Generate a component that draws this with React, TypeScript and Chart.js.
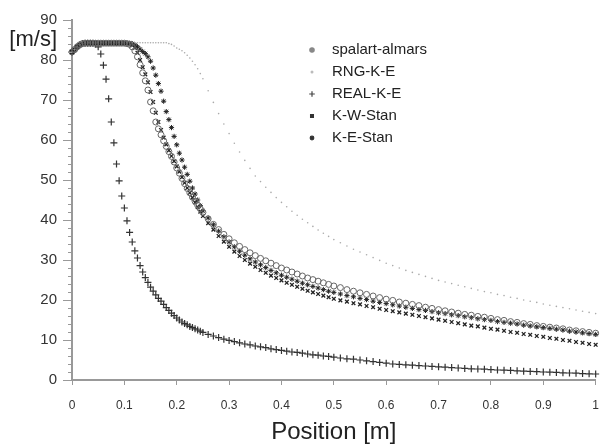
import { useEffect, useRef } from 'react';
import { Chart, registerables } from 'chart.js';
import { drawPoint } from 'chart.js/helpers';

Chart.register(...registerables);

// Sample positions along the line [m]
const positions = [
  0, 0.005, 0.01, 0.015, 0.02, 0.025, 0.03, 0.035, 0.04, 0.045, 0.05, 0.055, 0.06, 0.065, 0.07, 0.075, 0.08, 0.085, 0.09, 0.095, 0.1,
  0.105, 0.11, 0.115, 0.12, 0.125, 0.13, 0.135, 0.14, 0.145, 0.15, 0.155, 0.16, 0.165, 0.17, 0.175, 0.18, 0.185, 0.19, 0.195, 0.2,
  0.205, 0.21, 0.215, 0.22, 0.225, 0.23, 0.235, 0.24, 0.245, 0.25,
  0.26, 0.27, 0.28, 0.29, 0.3, 0.31, 0.32, 0.33, 0.34, 0.35, 0.36, 0.37, 0.38, 0.39, 0.4, 0.41, 0.42, 0.43, 0.44, 0.45, 0.46, 0.47, 0.48, 0.49, 0.5,
  0.5125, 0.525, 0.5375, 0.55, 0.5625, 0.575, 0.5875, 0.6, 0.6125, 0.625, 0.6375, 0.65, 0.6625, 0.675, 0.6875, 0.7, 0.7125, 0.725, 0.7375, 0.75,
  0.7625, 0.775, 0.7875, 0.8, 0.8125, 0.825, 0.8375, 0.85, 0.8625, 0.875, 0.8875, 0.9, 0.9125, 0.925, 0.9375, 0.95, 0.9625, 0.975, 0.9875, 1.0,
];

const spalartAlmars = [
  82.0, 82.6, 83.3, 83.8, 84.1, 84.2, 84.2, 84.2, 84.2, 84.2, 84.2, 84.2, 84.2, 84.2, 84.2, 84.2, 84.2, 84.2, 84.2, 84.2, 84.2,
  84.1, 83.9, 83.3, 82.3, 80.8, 78.8, 76.8, 74.8, 72.5, 69.5, 67.3, 64.5, 62.8, 61.3, 59.8, 58.4, 57.1, 55.9, 54.5, 53.0,
  51.7, 50.4, 49.1, 47.9, 46.8, 45.7, 44.7, 43.7, 42.8, 41.9,
  40.3, 38.9, 37.6, 36.4, 35.3, 34.3, 33.4, 32.6, 31.8, 31.1, 30.4, 29.8, 29.2, 28.6, 28.0, 27.5, 27.0, 26.5, 26.0, 25.5, 25.1, 24.7, 24.3, 23.9, 23.5,
  23.1, 22.6, 22.2, 21.8, 21.4, 21.0, 20.6, 20.2, 19.9, 19.5, 19.2, 18.9, 18.6, 18.2, 17.9, 17.6, 17.3, 17.0, 16.7, 16.4,
  16.2, 15.9, 15.7, 15.4, 15.1, 14.9, 14.6, 14.4, 14.1, 13.9, 13.6, 13.4, 13.2, 13.0, 12.8, 12.5, 12.3, 12.1, 11.9, 11.7,
];

const rngKE = [
  82.0, 82.6, 83.3, 83.8, 84.1, 84.3, 84.3, 84.3, 84.3, 84.3, 84.3, 84.3, 84.3, 84.3, 84.3, 84.3, 84.3, 84.3, 84.3, 84.3, 84.3,
  84.3, 84.3, 84.3, 84.3, 84.3, 84.3, 84.3, 84.3, 84.3, 84.3, 84.3, 84.3, 84.3, 84.3, 84.3, 84.3, 84.1, 83.9, 83.5, 83.0,
  82.7, 82.3, 81.8, 81.2, 80.5, 79.7, 78.8, 77.8, 76.6, 75.3,
  72.3, 69.4, 66.6, 64.0, 61.6, 59.2, 57.0, 54.9, 52.9, 51.0, 49.6, 48.2, 46.9, 45.6, 44.4, 43.3, 42.2, 41.2, 40.2, 39.3, 38.4, 37.5, 36.7, 35.9, 35.1,
  34.3, 33.5, 32.7, 32.0, 31.3, 30.6, 29.9, 29.2, 28.6, 28.0, 27.4, 26.9, 26.4, 25.9, 25.4, 24.9, 24.5, 24.1, 23.7, 23.3,
  22.9, 22.5, 22.1, 21.8, 21.4, 21.1, 20.7, 20.4, 20.0, 19.7, 19.4, 19.0, 18.7, 18.4, 18.1, 17.8, 17.5, 17.2, 16.9, 16.6,
];

const realKE = [
  82.0, 82.6, 83.3, 83.8, 84.1, 84.2, 84.2, 84.2, 84.2, 84.0, 83.3, 81.5, 78.7, 75.2, 70.3, 64.5, 59.3, 54.0, 49.8, 46.0, 43.0,
  39.8, 36.9, 34.5, 32.3, 30.5, 28.6, 27.0, 25.6, 24.4, 23.2, 22.2, 21.3, 20.4, 19.7, 18.9, 18.1, 17.4, 16.7, 16.1, 15.5,
  15.0, 14.5, 14.1, 13.8, 13.4, 13.1, 12.8, 12.5, 12.2, 11.9,
  11.4, 11.0, 10.6, 10.2, 9.9, 9.6, 9.3, 9.0, 8.8, 8.5, 8.3, 8.1, 7.8, 7.6, 7.4, 7.2, 7.0, 6.9, 6.7, 6.5, 6.3, 6.2, 6.0, 5.9, 5.7,
  5.5, 5.3, 5.2, 5.0, 4.8, 4.6, 4.4, 4.2, 4.0, 3.9, 3.8, 3.7, 3.6, 3.5, 3.4, 3.3, 3.2, 3.1, 3.0, 2.9,
  2.8, 2.75, 2.7, 2.6, 2.5, 2.45, 2.4, 2.3, 2.2, 2.15, 2.1, 2.0, 1.95, 1.9, 1.8, 1.75, 1.7, 1.6, 1.55, 1.5,
];

const kwStan = [
  82.0, 82.6, 83.3, 83.8, 84.1, 84.2, 84.2, 84.2, 84.2, 84.2, 84.2, 84.2, 84.2, 84.2, 84.2, 84.2, 84.2, 84.2, 84.2, 84.2, 84.2,
  84.2, 84.1, 83.7, 83.0, 81.8, 80.0, 78.2, 76.4, 74.4, 72.0, 69.5, 66.8, 64.5, 62.5, 60.6, 58.9, 57.4, 56.0, 54.7, 53.4,
  52.1, 50.7, 49.3, 48.0, 46.8, 45.6, 44.4, 43.2, 42.1, 41.0,
  39.2, 37.6, 36.0, 34.6, 33.3, 32.1, 31.0, 30.0, 29.1, 28.3, 27.5, 26.8, 26.1, 25.5, 24.9, 24.3, 23.8, 23.3, 22.8, 22.3, 21.9, 21.5, 21.1, 20.7, 20.3,
  19.9, 19.6, 19.2, 18.9, 18.5, 18.2, 17.8, 17.5, 17.2, 16.9, 16.6, 16.3, 16.0, 15.7, 15.4, 15.1, 14.8, 14.5, 14.2, 13.9,
  13.6, 13.4, 13.1, 12.8, 12.6, 12.3, 12.0, 11.8, 11.5, 11.3, 11.0, 10.8, 10.5, 10.3, 10.0, 9.8, 9.5, 9.3, 9.0, 8.8,
];

const keStan = [
  82.0, 82.6, 83.3, 83.8, 84.1, 84.2, 84.2, 84.2, 84.2, 84.2, 84.2, 84.2, 84.2, 84.2, 84.2, 84.2, 84.2, 84.2, 84.2, 84.2, 84.2,
  84.2, 84.2, 84.1, 83.8, 83.3, 82.7, 82.1, 81.6, 80.8, 79.7, 78.0, 76.2, 74.1, 72.2, 69.7, 67.1, 65.1, 63.1, 60.9, 58.8,
  56.7, 55.0, 53.2, 51.4, 49.7, 48.0, 46.5, 45.0, 43.6, 42.3,
  40.5, 38.8, 37.2, 35.8, 34.5, 33.3, 32.2, 31.2, 30.3, 29.5, 28.8, 28.1, 27.4, 26.8, 26.2, 25.7, 25.2, 24.7, 24.2, 23.8, 23.4, 23.0, 22.6, 22.2, 21.9,
  21.5, 21.1, 20.8, 20.4, 20.1, 19.7, 19.4, 19.1, 18.8, 18.5, 18.2, 17.9, 17.6, 17.4, 17.1, 16.8, 16.6, 16.3, 16.1, 15.8,
  15.6, 15.3, 15.1, 14.9, 14.6, 14.4, 14.2, 14.0, 13.7, 13.5, 13.3, 13.1, 12.9, 12.7, 12.5, 12.2, 12.0, 11.8, 11.6, 11.4,
];

const seriesNames = ['spalart-almars', 'RNG-K-E', 'REAL-K-E', 'K-W-Stan', 'K-E-Stan'];
const xTickLabels = ['0', '0.1', '0.2', '0.3', '0.4', '0.5', '0.6', '0.7', '0.8', '0.9', '1'];
const yTickLabels = ['0', '10', '20', '30', '40', '50', '60', '70', '80', '90'];
const xTitle = 'Position [m]';
const yTitle = '[m/s]';

const FONT = '"Liberation Sans", Arial, sans-serif';

export default function App() {
  const ref = useRef<HTMLCanvasElement>(null);

  useEffect(() => {
    document.body.style.margin = '0';
    const canvas = ref.current;
    if (!canvas) return;

    const seriesValues = [spalartAlmars, rngKE, realKE, kwStan, keStan];
    const styles = [
      { pointStyle: 'circle', radius: 3, borderColor: '#666', backgroundColor: 'rgba(255,255,255,0)', borderWidth: 1 },
      { pointStyle: 'circle', radius: 0.8, borderColor: '#aaa', backgroundColor: '#aaa', borderWidth: 0 },
      { pointStyle: 'cross', radius: 3.5, borderColor: '#333', backgroundColor: '#333', borderWidth: 1.2 },
      { pointStyle: 'crossRot', radius: 2.6, borderColor: '#222', backgroundColor: '#222', borderWidth: 1.3 },
      { pointStyle: 'star', radius: 2.6, borderColor: '#222', backgroundColor: '#222', borderWidth: 1 },
    ];
    const legendStyles = [
      { pointStyle: 'circle', radius: 2.2, color: '#888' },
      { pointStyle: 'circle', radius: 0.9, color: '#bbb' },
      { pointStyle: 'cross', radius: 2.8, color: '#444' },
      { pointStyle: 'rect', radius: 2.0, color: '#333' },
      { pointStyle: 'circle', radius: 1.8, color: '#333' },
    ];

    const datasets = seriesNames.map((name, k) => ({
      label: name,
      data: positions.map((x, i) => ({ x, y: seriesValues[k][i] })),
      showLine: false,
      pointStyle: styles[k].pointStyle as any,
      pointRadius: styles[k].radius,
      pointBorderColor: styles[k].borderColor,
      pointBackgroundColor: styles[k].backgroundColor,
      pointBorderWidth: styles[k].borderWidth,
      clip: false as any,
    }));

    const decor = {
      id: 'decor',
      afterDraw(chart: any) {
        const ctx = chart.ctx as CanvasRenderingContext2D;
        const ys = chart.scales.y;
        const { left, right } = chart.chartArea;
        ctx.save();
        // minor y ticks
        ctx.strokeStyle = '#999';
        ctx.lineWidth = 1;
        ys.ticks.forEach((t: any) => {
          if (t.value % 10 !== 0) {
            const py = Math.round(ys.getPixelForValue(t.value)) + 0.5;
            ctx.beginPath();
            ctx.moveTo(left - 4, py);
            ctx.lineTo(left, py);
            ctx.stroke();
          }
        });
        // legend
        ctx.font = `15px ${FONT}`;
        ctx.textAlign = 'left';
        ctx.textBaseline = 'middle';
        seriesNames.forEach((name, k) => {
          const y = 50 + k * 22;
          const st = legendStyles[k];
          ctx.fillStyle = st.color;
          ctx.strokeStyle = st.color;
          ctx.lineWidth = 1.2;
          drawPoint(ctx, { pointStyle: st.pointStyle as any, radius: st.radius, rotation: 0, borderWidth: 1.2 }, 312, y);
          ctx.fillStyle = '#222';
          ctx.fillText(name, 332, y);
        });
        // titles
        ctx.fillStyle = '#222';
        ctx.font = `22px ${FONT}`;
        ctx.textAlign = 'right';
        ctx.fillText(yTitle, 57, 40);
        ctx.font = `24px ${FONT}`;
        ctx.textAlign = 'center';
        ctx.fillText(xTitle, (left + right) / 2, 432);
        ctx.restore();
      },
    };

    const chart = new Chart(canvas, {
      type: 'scatter',
      data: { datasets },
      options: {
        responsive: false,
        animation: false,
        layout: { padding: { left: 0, right: 6, top: 20, bottom: 0 } },
        plugins: { legend: { display: false }, tooltip: { enabled: false } },
        scales: {
          x: {
            type: 'linear',
            min: 0,
            max: 1,
            ticks: {
              stepSize: 0.1,
              autoSkip: false,
              maxRotation: 0,
              padding: 13,
              color: '#333',
              font: { family: FONT, size: 12 },
              callback: (_v: any, i: number) => xTickLabels[i],
            },
            grid: { drawOnChartArea: false, tickLength: 5, tickColor: '#999', color: '#999' },
            border: { color: '#999', width: 2 },
            afterFit: (s: any) => { s.height = 65; },
          },
          y: {
            type: 'linear',
            min: 0,
            max: 90,
            ticks: {
              stepSize: 2,
              autoSkip: false,
              padding: 6,
              color: '#333',
              font: { family: FONT, size: 15 },
              callback: (v: any) => (Number(v) % 10 === 0 ? yTickLabels[Number(v) / 10] : ''),
            },
            grid: {
              drawOnChartArea: false,
              tickLength: 9,
              color: '#999',
              tickColor: (c: any) => (c.tick && c.tick.value % 10 === 0 ? '#999' : 'rgba(0,0,0,0)'),
            },
            border: { color: '#999', width: 2 },
            afterFit: (s: any) => { s.width = 72; },
          },
        },
      },
      plugins: [decor],
    });

    return () => chart.destroy();
  }, []);

  return (
    <div style={{ width: 612, height: 445 }}>
      <canvas ref={ref} width={612} height={445} style={{ display: 'block' }} />
    </div>
  );
}
